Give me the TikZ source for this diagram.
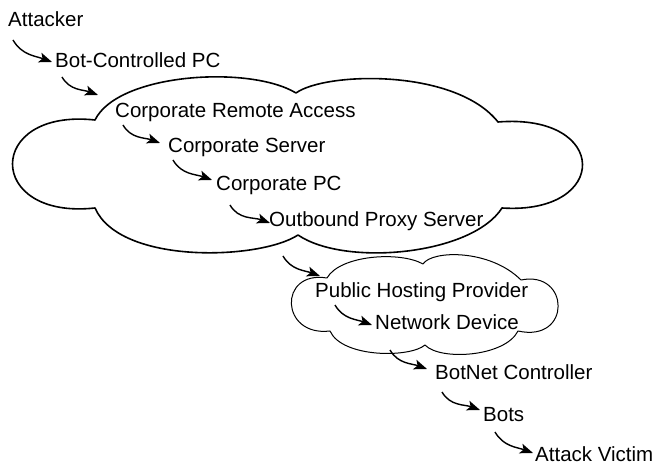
\documentclass[tikz,border=0pt]{standalone}
\usepackage{fontspec}
\setmainfont{Liberation Sans}
\usetikzlibrary{arrows.meta}
\begin{document}
\begin{tikzpicture}[x=1pt,y=1pt,
  hop/.style={anchor=base west,inner sep=0pt,font=\fontsize{20.5}{24}\selectfont},
  jump/.style={line width=1.4pt,out=-60,in=160,-{Stealth[length=13pt,width=10pt,inset=3pt]}},
  cloudline/.style={line width=#1,line join=round}]
\useasboundingbox (0,0) rectangle (655,465);
% corporate network
\draw[cloudline=1.6pt] (95,345) .. controls (118,392) and (250,400) .. (296,372)
  .. controls (325,393) and (455,397) .. (498,343)
  .. controls (610,352) and (610,250) .. (502,257)
  .. controls (472,210) and (345,198) .. (298,230)
  .. controls (260,205) and (120,200) .. (95,257)
  .. controls (-15,245) and (-15,357) .. (95,345) -- cycle;
% hosting provider
\draw[cloudline=1pt] (327,187) .. controls (340,210) and (400,214) .. (423,201)
  .. controls (432,215) and (490,216) .. (521,185)
  .. controls (570,195) and (572,122) .. (518,134)
  .. controls (505,108) and (440,104) .. (425,120)
  .. controls (410,107) and (342,107) .. (330,134)
  .. controls (280,128) and (278,195) .. (327,187) -- cycle;
\coordinate (corpin) at (98,370);
\coordinate (hostin) at (320,189);
\node[hop] (attacker) at (8,438) {Attacker};
\node[hop] (botpc) at (55,397) {Bot-Controlled PC};
\node[hop] (remote) at (115,347) {Corporate Remote Access};
\node[hop] (server) at (168,312) {Corporate Server};
\node[hop] (corppc) at (216,274) {Corporate PC};
\node[hop] (proxy) at (269,238) {Outbound Proxy Server};
\node[hop] (hosting) at (315,167) {Public Hosting Provider};
\node[hop] (netdev) at (375,135) {Network Device};
\node[hop] (controller) at (435,85) {BotNet Controller};
\node[hop] (bots) at (483,43) {Bots};
\node[hop] (victim) at (535,3) {Attack Victim};
% attack path
\draw[jump] ([shift={(5,-13)}]attacker.base west) to ([shift={(-3,6)}]botpc.base west);
\draw[jump] ([shift={(7,-9)}]botpc.base west) to (corpin);
\draw[jump] ([shift={(8,-7)}]remote.base west) to ([shift={(-8,10)}]server.base west);
\draw[jump] ([shift={(5,-7)}]server.base west) to ([shift={(-4,11)}]corppc.base west);
\draw[jump] ([shift={(14,-14)}]corppc.base west) to ([shift={(1,4)}]proxy.base west);
\draw[jump] ([shift={(14,-29)}]proxy.base west) to (hostin);
\draw[jump] ([shift={(20,-7)}]hosting.base west) to ([shift={(-3,5)}]netdev.base west);
\draw[jump] ([shift={(15,-20)}]netdev.base west) to ([shift={(-8,11)}]controller.base west);
\draw[jump] ([shift={(7,-12)}]controller.base west) to ([shift={(-3,12)}]bots.base west);
\draw[jump] ([shift={(12,-10)}]bots.base west) to ([shift={(-2,9)}]victim.base west);
\end{tikzpicture}
\end{document}
